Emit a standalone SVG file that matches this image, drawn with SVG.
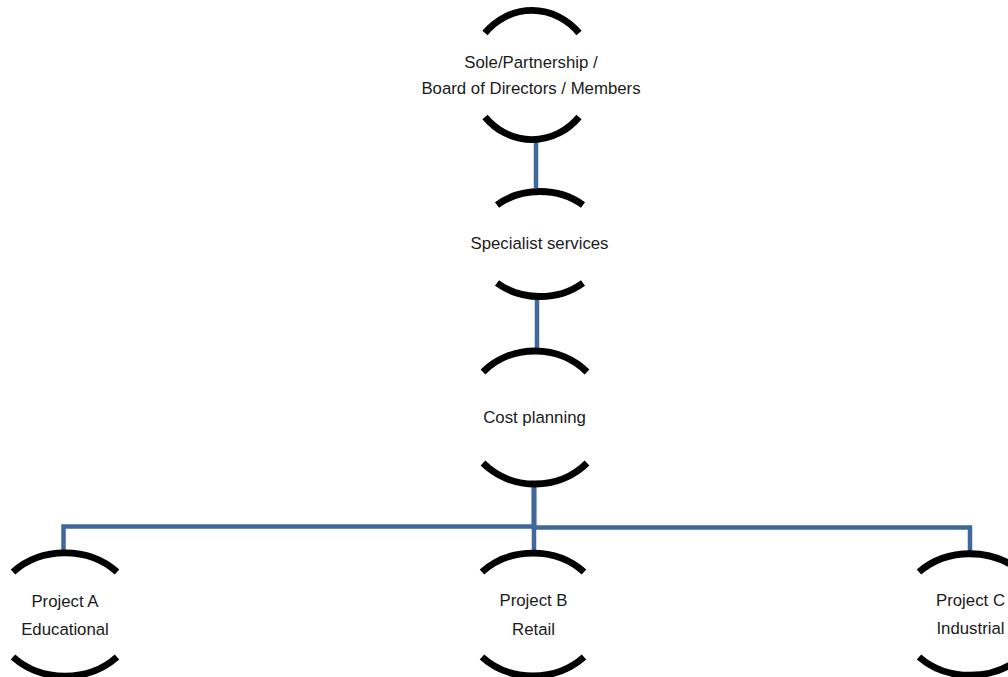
<svg xmlns="http://www.w3.org/2000/svg" width="1008" height="677" viewBox="0 0 1008 677">
<style>
.arc{fill:none;stroke:#000;stroke-width:6.8;stroke-linecap:butt}
.con{fill:none;stroke:#41689A;stroke-width:4.5;stroke-linejoin:miter}
.lbl{font-family:"Liberation Sans",Arial,sans-serif;font-size:16.8px;fill:#1a1a1a;text-anchor:middle}
</style>
<rect width="1008" height="677" fill="#fff"/>
<g id="connectors">
<path class="con" d="M536 141 V188"/>
<path class="con" d="M537 296 V350"/>
<path class="con" d="M534 483 V526.5 H63.5 V553"/>
<path class="con" d="M534 483 V527.5 H970 V553"/>
<path class="con" d="M534 483 V551"/>
</g>
<g id="node-board">
<path class="arc" d="M485 33 A61.9 64.5 0 0 1 579 33"/>
<path class="arc" d="M485 117 A61.9 64.5 0 0 0 579 117"/>
<text class="lbl" x="531" y="68">Sole/Partnership /</text>
<text class="lbl" x="531" y="94">Board of Directors / Members</text>
</g>
<g id="node-specialist">
<path class="arc" d="M497 205 A64.2 52.5 0 0 1 583 205"/>
<path class="arc" d="M497 283 A64.2 52.5 0 0 0 583 283"/>
<text class="lbl" x="539.5" y="249">Specialist services</text>
</g>
<g id="node-cost">
<path class="arc" d="M483 372 A71.3 66.5 0 0 1 587 372"/>
<path class="arc" d="M483 463 A71.3 66.5 0 0 0 587 463"/>
<text class="lbl" x="534.5" y="423">Cost planning</text>
</g>
<g id="node-project-a">
<path class="arc" d="M13 572 A72 62 0 0 1 117 572"/>
<path class="arc" d="M13 657 A72 62 0 0 0 117 657"/>
<text class="lbl" x="65" y="607">Project A</text>
<text class="lbl" x="65" y="635">Educational</text>
</g>
<g id="node-project-b">
<path class="arc" d="M482 572 A71 62 0 0 1 584 572"/>
<path class="arc" d="M482 657 A71 62 0 0 0 584 657"/>
<text class="lbl" x="533.5" y="606">Project B</text>
<text class="lbl" x="533.5" y="635">Retail</text>
</g>
<g id="node-project-c">
<path class="arc" d="M919 572 A72 62 0 0 1 1021 572"/>
<path class="arc" d="M919 657 A72 62 0 0 0 1021 657"/>
<text class="lbl" x="970.5" y="606">Project C</text>
<text class="lbl" x="970.5" y="634">Industrial</text>
</g>
</svg>
